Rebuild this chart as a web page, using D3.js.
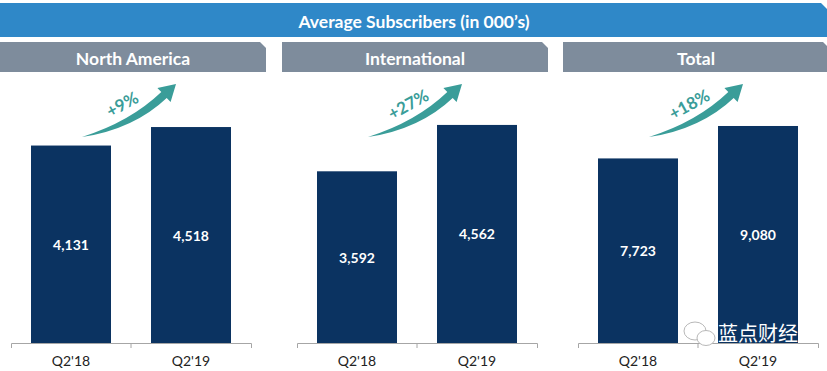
<!DOCTYPE html>
<html>
<head>
<meta charset="utf-8">
<script src="https://cdn.jsdelivr.net/npm/d3@7"></script>
<style>
  body { margin: 0; background: #fff; }
  text { font-family: Lato, "Open Sans", sans-serif; }
</style>
</head>
<body>
<div id="chart"></div>
<script>
// Data
var regions = ["North America", "International", "Total"];
var periods = ["Q2'18", "Q2'19"];
var naValues = [4131, 4518];
var intlValues = [3592, 4562];
var totalValues = [7723, 9080];
var growthLabels = ["+9%", "+27%", "+18%"];
var axisMax = [5000, 5000, 10000];

var seriesValues = [naValues, intlValues, totalValues];

var svgWidth = 827;
var svgHeight = 371;

// Layout of the three panels
var headerLeft = [0, 282, 563];
var headerWidth = 266;
var axisLeft = [11, 297, 578];
var axisWidth = 240;
var baseY = 343;
var topY = 104;

var navy = "#0b3361";
var teal = "#3a9d99";

var svg = d3.select("#chart")
  .append("svg")
  .attr("width", svgWidth)
  .attr("height", svgHeight);

// Title banner with clipped top-right corner
svg.append("path")
  .attr("d", "M0,3 H821 L827,9 V37 H0 Z")
  .attr("fill", "#2f88c8");

svg.append("text")
  .attr("x", 414)
  .attr("y", 21)
  .attr("text-anchor", "middle")
  .attr("dominant-baseline", "central")
  .attr("font-size", "17.5px")
  .attr("font-weight", "bold")
  .attr("fill", "white")
  .text("Average Subscribers (in 000\u2019s)");

// one panel per region, each with its own y scale
regions.forEach(function(region, i) {
  var hx = headerLeft[i];
  var g = svg.append("g");

  g.append("path")
    .attr("d", `M${hx},42 H${hx + headerWidth - 6} L${hx + headerWidth},48 V72 H${hx} Z`)
    .attr("fill", "#7e8c9c");

  g.append("text")
    .attr("x", hx + headerWidth / 2)
    .attr("y", 58)
    .attr("text-anchor", "middle")
    .attr("dominant-baseline", "central")
    .attr("font-size", "17.5px")
    .attr("font-weight", "bold")
    .attr("fill", "white")
    .text(region);

  var xScale = d3.scaleBand()
    .domain(periods)
    .range([axisLeft[i], axisLeft[i] + axisWidth])
    .paddingInner(1 / 3)
    .paddingOuter(1 / 6);

  var yScale = d3.scaleLinear()
    .domain([0, axisMax[i]])
    .range([baseY, topY]);

  var vals = seriesValues[i];

  g.selectAll("rect.bar")
    .data(vals)
    .enter()
    .append("rect")
    .attr("class", "bar")
    .attr("x", (d, j) => xScale(periods[j]))
    .attr("y", d => yScale(d))
    .attr("width", xScale.bandwidth())
    .attr("height", d => baseY - yScale(d))
    .attr("fill", navy);

  g.selectAll("text.val")
    .data(vals)
    .enter()
    .append("text")
    .attr("class", "val")
    .attr("x", (d, j) => xScale(periods[j]) + xScale.bandwidth() / 2)
    .attr("y", d => (yScale(d) + baseY) / 2)
    .attr("text-anchor", "middle")
    .attr("dominant-baseline", "central")
    .attr("font-size", "14px")
    .attr("font-weight", "bold")
    .attr("fill", "white")
    .text(d => d3.format(",")(d));

  var axis = g.append("g")
    .attr("transform", `translate(0, ${baseY})`)
    .call(d3.axisBottom(xScale).tickSize(0).tickSizeOuter(5).tickPadding(13));

  axis.select(".domain").attr("stroke", "#a6a6a6");
  axis.selectAll("text")
    .attr("font-size", "14px")
    .attr("fill", "#222")
    .style("font-family", "Lato, 'Open Sans', sans-serif");

  // middle tick between the two bands
  var mid = axisLeft[i] + axisWidth / 2;
  g.append("line")
    .attr("x1", mid).attr("x2", mid)
    .attr("y1", baseY).attr("y2", baseY + 5)
    .attr("stroke", "#a6a6a6");

  // growth arrow
  var sx = xScale(periods[0]) + xScale.bandwidth() / 2 + 11;
  var arrow = g.append("g")
    .attr("transform", `translate(${sx}, 137)`);

  arrow.append("path")
    .attr("d", "M0,0 Q52,-8 84.7,-39.1 L88.6,-35 L94,-53 L75.4,-49 L79.3,-44.9 Q48,-15 0,0 Z")
    .attr("fill", teal);

  arrow.append("text")
    .attr("transform", "translate(40,-33) rotate(-29)")
    .attr("text-anchor", "middle")
    .attr("dominant-baseline", "central")
    .attr("font-size", "17px")
    .attr("font-weight", "bold")
    .attr("fill", teal)
    .text(growthLabels[i]);
});

// watermark
var wm = svg.append("g");
wm.append("ellipse")
  .attr("cx", 695).attr("cy", 331).attr("rx", 11).attr("ry", 9)
  .attr("fill", "white").attr("stroke", "#b8b8b8").attr("stroke-width", 1);
wm.append("ellipse")
  .attr("cx", 706).attr("cy", 338).attr("rx", 9).attr("ry", 7.5)
  .attr("fill", "white").attr("stroke", "#b8b8b8").attr("stroke-width", 1);
wm.append("text")
  .attr("x", 718)
  .attr("y", 341)
  .attr("font-size", "20px")
  .attr("fill", "white")
  .style("font-family", "'Noto Sans CJK SC', sans-serif")
  .text("蓝点财经");
</script>
</body>
</html>
